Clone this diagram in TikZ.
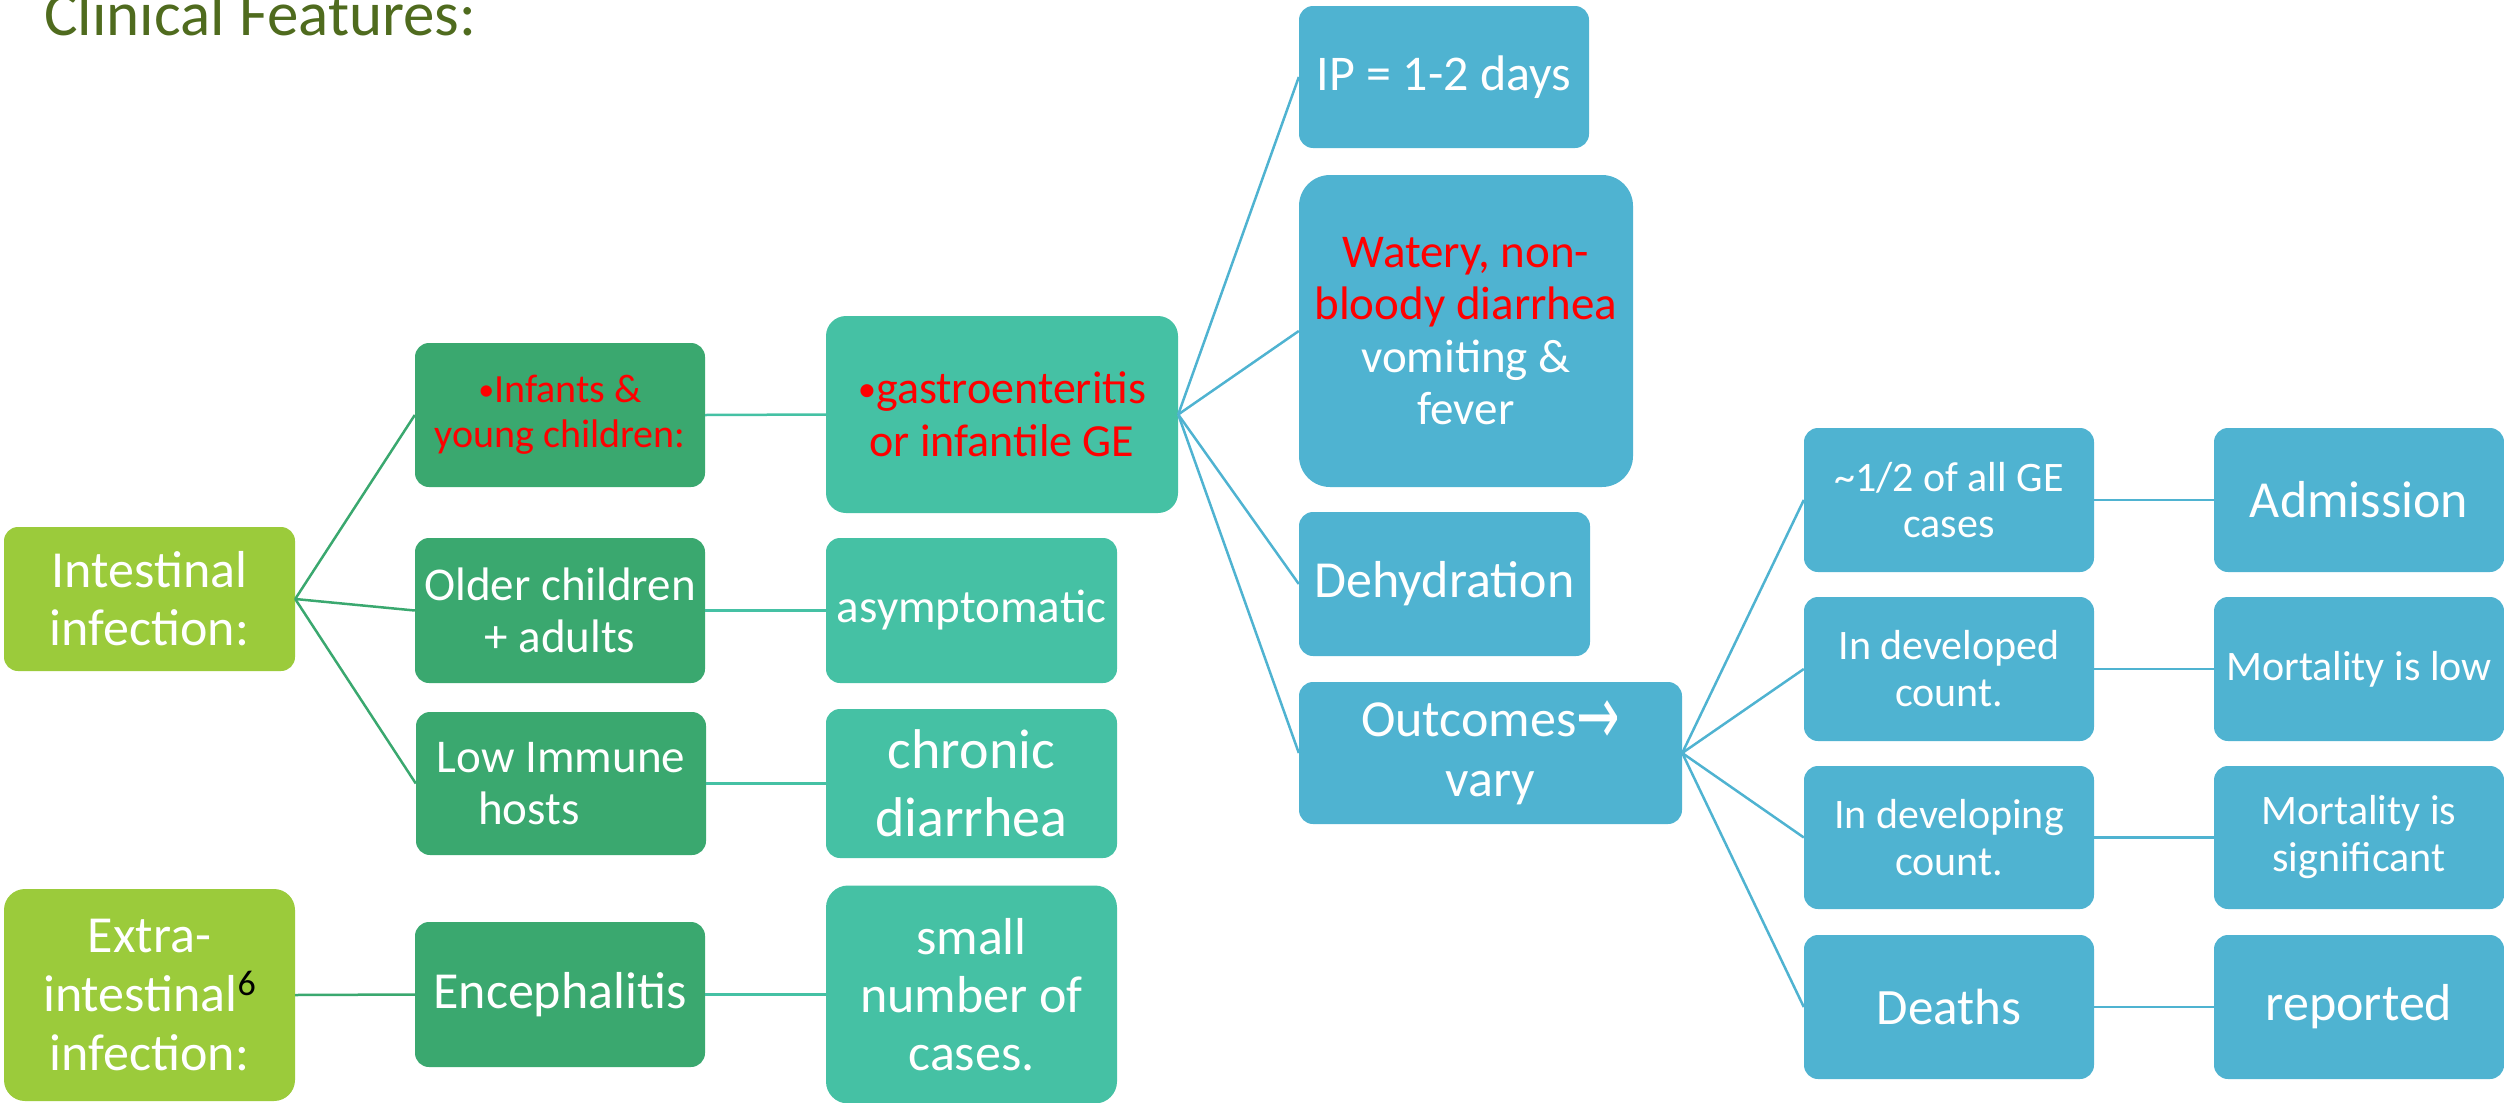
\documentclass[tikz,border=0pt]{standalone}
\usepackage{graphicx}
\usepackage{fontspec}
\setmainfont{Carlito}
\newfontfamily\dejavu{DejaVu Sans}
\definecolor{cLime}{HTML}{9BCB3B}
\definecolor{cDark}{HTML}{3AA86F}
\definecolor{cTeal}{HTML}{45C1A4}
\definecolor{cBlue}{HTML}{4FB3D1}
\definecolor{cTitle}{HTML}{4F6B1E}
\definecolor{cRed}{HTML}{FF0000}
\newcommand{\fsz}[2]{\fontsize{#1pt}{#2pt}\selectfont}
\newcommand{\smbul}{\raisebox{2pt}{\scalebox{0.8}{•}}}
\tikzset{
  bx/.style n args={2}{minimum width=#1pt, minimum height=#2pt},
  box/.style={rounded corners=14pt, inner sep=0pt, align=center, text=white},
  limebox/.style={box, fill=cLime},
  darkbox/.style={box, fill=cDark},
  tealbox/.style={box, fill=cTeal},
  bluebox/.style={box, fill=cBlue},
  lnG/.style={draw=cDark, line width=2.5pt},
  lnT/.style={draw=cTeal, line width=2.5pt},
  lnB/.style={draw=cBlue, line width=2.5pt},
}
\begin{document}
\begin{tikzpicture}[x=1pt,y=-1pt]
\useasboundingbox (0,0) rectangle (2504,1103);
\node[anchor=base west, inner sep=0pt, text=cTitle, font=\fsz{63}{70}] (title) at (44,35) {Clinical Features:};

% column 1
\node[limebox, bx={291}{144}, font=\fsz{52}{58}] (int) at (149.5,599) {Intestinal\\infection:};
\node[limebox, bx={291}{212}, rounded corners=21pt, font=\fsz{52}{59}] (ext) at (149.5,995) {Extra-\\intestinal\raisebox{16pt}{\color{black}\fsz{36}{36}6}\\infection:};

% column 2
\node[darkbox, bx={290}{144}, font=\fsz{40}{45}, text=cRed] (inf) at (560,415) {\smbul Infants \&\\young children:};
\node[darkbox, bx={290}{145}, font=\fsz{47}{52}] (old) at (560,610.5) {Older children\\+ adults};
\node[darkbox, bx={290}{143}, font=\fsz{47}{52}] (low) at (561,783.5) {Low Immune\\hosts\hspace{64pt}\mbox{}};
\node[darkbox, bx={290}{145}, font=\fsz{52}{58}] (enc) at (560,994.5) {Encephalitis};

% column 3
\node[tealbox, bx={352}{197}, rounded corners=20pt, font=\fsz{46}{53}, text=cRed] (gas) at (1002,414.5) {\smbul gastroenteritis\\or infantile GE};
\node[tealbox, bx={291}{145}, font=\fsz{47}{52}] (asy) at (971.5,610.5) {asymptomatic};
\node[tealbox, bx={291}{149}, font=\fsz{56}{68}] (chr) at (971.5,783.5) {chronic\\diarrhea};
\node[tealbox, bx={291}{218}, rounded corners=22pt, font=\fsz{52}{58}] (sml) at (971.5,994.5) {small\\number of\\cases.};

% column 4
\node[bluebox, bx={290}{142}, font=\fsz{50}{56}] (ip) at (1444,77) {IP = 1-2 days};
\node[bluebox, bx={334}{312}, rounded corners=31pt, font=\fsz{47}{52.5}] (wat) at (1466,331) {{\color{cRed}Watery, non-}\\{\color{cRed}bloody diarrhea}\\vomiting \&\\fever};
\node[bluebox, bx={291}{144}, font=\fsz{52}{58}] (deh) at (1444.5,584) {Dehydration};
\node[bluebox, bx={383}{142}, font=\fsz{52}{60}] (out) at (1490.5,753) {Outcomes\raisebox{-8pt}{\scalebox{1}[1.6]{\dejavu →}}\\vary};

% column 5
\node[bluebox, bx={290}{144}, font=\fsz{42}{46}] (half) at (1949,500) {\textasciitilde 1/2 of all GE\\cases};
\node[bluebox, bx={290}{144}, font=\fsz{42}{47}] (dvd) at (1949,669) {In developed\\count.};
\node[bluebox, bx={290}{143}, font=\fsz{42}{47}] (dvg) at (1949,837.5) {In developing\\count.};
\node[bluebox, bx={290}{144}, font=\fsz{51}{58}] (dth) at (1949,1007) {Deaths};

% column 6
\node[bluebox, bx={290}{144}, font=\fsz{52}{58}] (adm) at (2359,500) {Admission};
\node[bluebox, bx={290}{144}, font=\fsz{42}{47}] (mlow) at (2359,669) {Mortality is low};
\node[bluebox, bx={290}{143}, font=\fsz{42}{47}] (msig) at (2359,837.5) {Mortality is\\significant};
\node[bluebox, bx={290}{144}, font=\fsz{52}{58}] (rep) at (2359,1007) {reported};

% connectors
\draw[lnG] (int.east) -- (inf.west);
\draw[lnG] (int.east) -- (old.west);
\draw[lnG] (int.east) -- (low.west);
\draw[lnG] (ext.east) -- (enc.west);

\draw[lnT] (inf.east) -- (gas.west);
\draw[lnT] (old.east) -- (asy.west);
\draw[lnT] (low.east) -- (chr.west);
\draw[lnT] (enc.east) -- (sml.west);

\draw[lnB] (gas.east) -- (ip.west);
\draw[lnB] (gas.east) -- (wat.west);
\draw[lnB] (gas.east) -- (deh.west);
\draw[lnB] (gas.east) -- (out.west);

\draw[lnB] (out.east) -- (half.west);
\draw[lnB] (out.east) -- (dvd.west);
\draw[lnB] (out.east) -- (dvg.west);
\draw[lnB] (out.east) -- (dth.west);

\draw[lnB] (half.east) -- (adm.west);
\draw[lnB] (dvd.east) -- (mlow.west);
\draw[lnB] (dvg.east) -- (msig.west);
\draw[lnB] (dth.east) -- (rep.west);
\end{tikzpicture}
\end{document}
